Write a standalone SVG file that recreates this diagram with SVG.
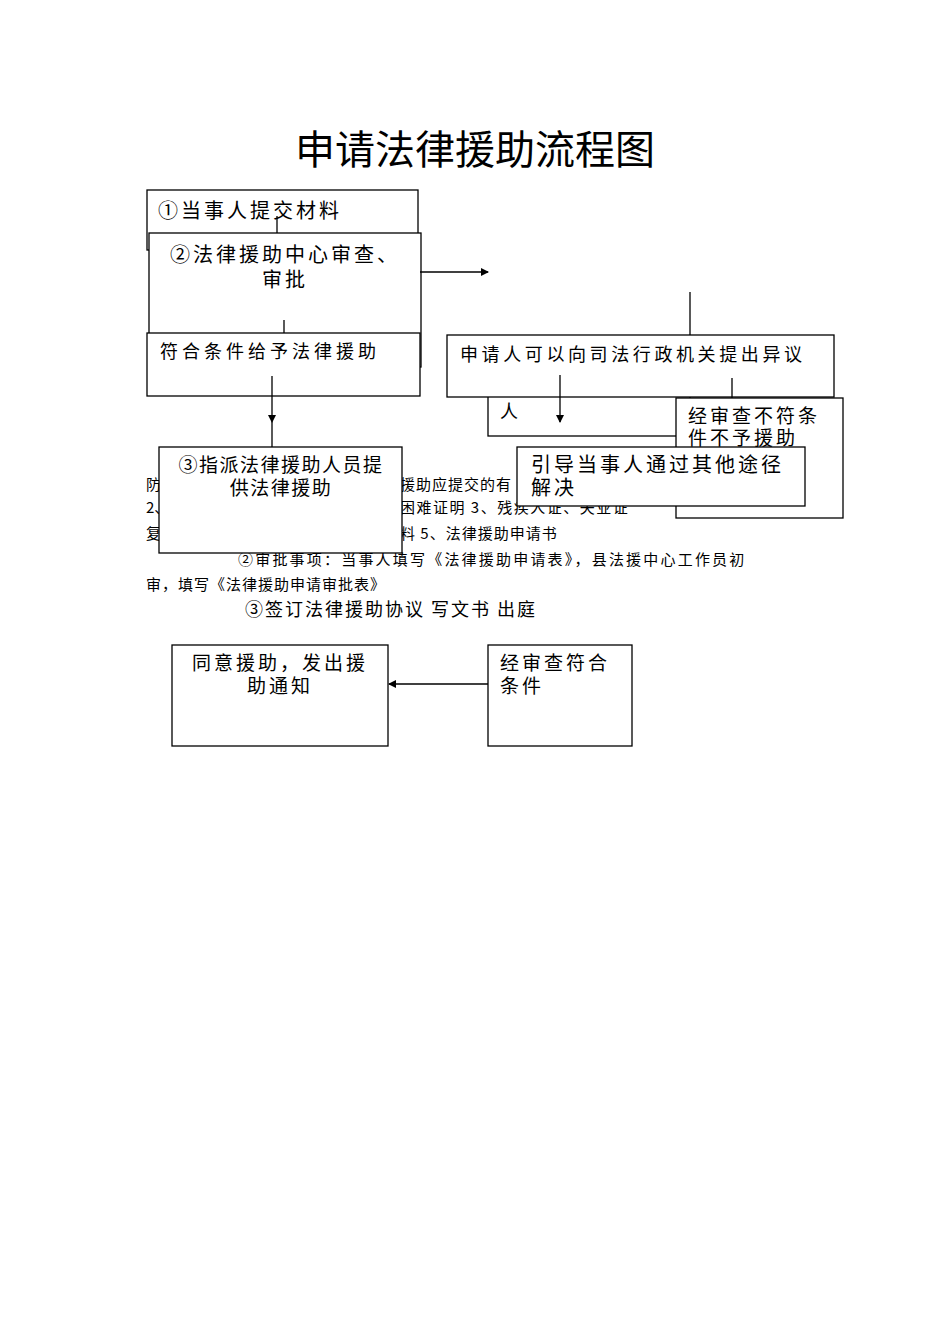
<svg xmlns="http://www.w3.org/2000/svg" width="950" height="1344" viewBox="0 0 950 1344">
<style>
.b{fill:#fff;stroke:#000;stroke-width:1.3}
.t{font-family:"Noto Sans CJK SC","Liberation Serif",serif;fill:#000}
.s{letter-spacing:3px}
.l{stroke:#000;stroke-width:1.3;fill:none}
</style>
<defs><marker id="a" markerWidth="8" markerHeight="8" refX="7" refY="4" orient="auto" markerUnits="userSpaceOnUse"><path d="M0,0L8,4L0,8z"/></marker></defs>
<rect width="950" height="1344" fill="#fff"/>
<text class="t" x="475" y="164" font-size="40" text-anchor="middle">申请法律援助流程图</text>
<g class="t" font-size="15">
<text x="146" y="490">防</text><text x="400" y="490" letter-spacing="1">援助应提交的有</text>
<text x="146" y="513">2、</text><text x="400" y="513" letter-spacing="1.5">困难证明 3、残疾人证、失业证</text>
<text x="146" y="539">复</text><text x="400" y="539" letter-spacing="1">料 5、法律援助申请书</text>
<text x="238" y="565" letter-spacing="2.2">②审批事项：当事人填写《法律援助申请表》，县法援中心工作员初</text>
<text x="146" y="590" letter-spacing="1">审，填写《法律援助申请审批表》</text>
<text x="245" y="616" font-size="18" letter-spacing="2">③签订法律援助协议 写文书 出庭</text>
</g>
<g id="n1"><rect class="b" x="147" y="190" width="271" height="60"/><text class="t s" x="158" y="218" font-size="20">①当事人提交材料</text></g>
<g id="n2"><rect class="b" x="149" y="233" width="272" height="134"/><text class="t s" x="285" y="262" font-size="20" text-anchor="middle">②法律援助中心审查、</text><text class="t s" x="285" y="287" font-size="20" text-anchor="middle">审批</text></g>
<g id="n3"><rect class="b" x="147" y="333" width="273" height="63"/><text class="t" x="160" y="358" font-size="18" letter-spacing="4">符合条件给予法律援助</text></g>
<g id="n5"><rect class="b" x="488" y="380" width="202" height="56"/><text class="t" x="500" y="418" font-size="18">人</text></g>
<g id="n4"><rect class="b" x="447" y="335" width="387" height="62"/><text class="t" x="460" y="361" font-size="18" letter-spacing="3.6">申请人可以向司法行政机关提出异议</text></g>
<g id="n6"><rect class="b" x="676" y="398" width="167" height="120"/><text class="t s" x="688" y="423" font-size="19">经审查不符条</text><text class="t s" x="688" y="445" font-size="19">件不予援助</text></g>
<g id="n7"><rect class="b" x="159" y="447" width="243" height="106"/><text class="t" x="281" y="472" font-size="19" text-anchor="middle" letter-spacing="1.5">③指派法律援助人员提</text><text class="t" x="281" y="495" font-size="19" text-anchor="middle" letter-spacing="1.5">供法律援助</text></g>
<g id="n8"><rect class="b" x="517" y="447" width="288" height="59"/><text class="t s" x="531" y="472" font-size="20">引导当事人通过其他途径</text><text class="t s" x="531" y="495" font-size="20">解决</text></g>
<g id="n9"><rect class="b" x="172" y="645" width="216" height="101"/><text class="t s" x="280" y="670" font-size="19" text-anchor="middle">同意援助，发出援</text><text class="t s" x="280" y="693" font-size="19" text-anchor="middle">助通知</text></g>
<g id="n10"><rect class="b" x="488" y="645" width="144" height="101"/><text class="t s" x="500" y="670" font-size="19">经审查符合</text><text class="t s" x="500" y="693" font-size="19">条件</text></g>
<g id="c">
<path class="l" d="M277,216V233"/>
<path class="l" d="M284,320V333"/>
<path class="l" d="M420,272H488" marker-end="url(#a)"/>
<path class="l" d="M690,292V335"/>
<path class="l" d="M732,378V398"/>
<path class="l" d="M560,375V422" marker-end="url(#a)"/>
<path class="l" d="M272,376V422" marker-end="url(#a)"/>
<path class="l" d="M272,422V447"/>
<path class="l" d="M488,684H389" marker-end="url(#a)"/>
</g>
</svg>
